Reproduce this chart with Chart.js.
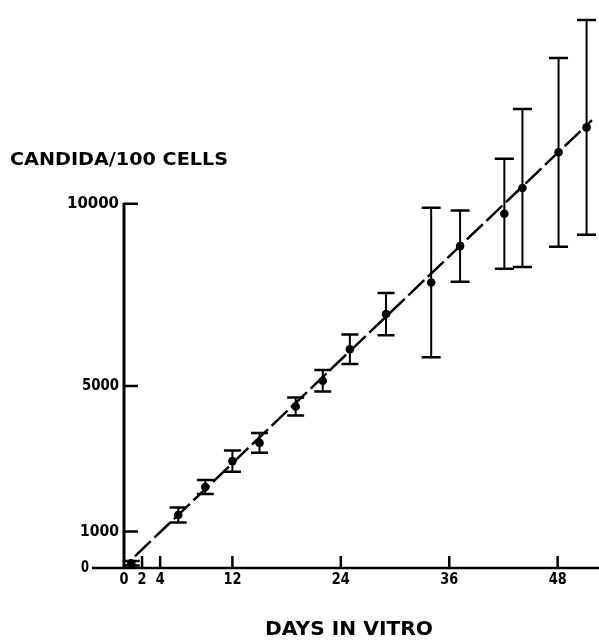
<!DOCTYPE html>
<html>
<head>
<meta charset="utf-8">
<script src="https://cdn.jsdelivr.net/npm/chart.js@4"></script>
<style>
  body { margin: 0; background: #fff; }
  #wrap { width: 599px; height: 640px; position: relative; }
</style>
</head>
<body>
<div id="wrap"><canvas id="Chart" width="599" height="640"></canvas></div>
<script>
// data
const days = [0.8, 6, 9, 12, 15, 19, 22, 25, 29, 34, 37.2, 42.1, 44.1, 48.1, 51.2];
const counts = [130, 1455, 2225, 2935, 3435, 4435, 5140, 6005, 6975, 7840, 8840, 9730, 10435, 11415, 12100];
const errors = [60, 205, 190, 290, 270, 245, 295, 405, 580, 2055, 980, 1510, 2170, 2590, 2950];
const fitDays = [1.2, 51.8];
const fitCounts = [320, 12300];
const xTicks = [0, 2, 4, 12, 24, 36, 48];
const yTicks = [0, 1000, 5000, 10000];

const FONT = '"DejaVu Sans", sans-serif';

// text drawn squeezed/stretched to a target width
function fitText(ctx, txt, x, y, size, width, align) {
  ctx.save();
  ctx.font = 'bold ' + size + 'px ' + FONT;
  const w = ctx.measureText(txt).width;
  const s = width / w;
  ctx.textBaseline = 'middle';
  ctx.textAlign = 'left';
  let left = x;
  if (align === 'right') left = x - width;
  if (align === 'center') left = x - width / 2;
  ctx.translate(left, y);
  ctx.scale(s, 1);
  ctx.fillText(txt, 0, 0);
  ctx.restore();
}

const axesPlugin = {
  id: 'axesPlugin',
  afterDatasetsDraw(chart) {
    const ctx = chart.ctx;
    const xs = chart.scales.x, ys = chart.scales.y;
    const x0 = xs.getPixelForValue(0), y0 = ys.getPixelForValue(0);
    ctx.save();
    ctx.strokeStyle = '#000';
    ctx.fillStyle = '#000';
    ctx.lineCap = 'butt';

    // error bars
    days.forEach((d, i) => {
      const px = xs.getPixelForValue(d);
      const top = ys.getPixelForValue(counts[i] + errors[i]);
      const bot = ys.getPixelForValue(counts[i] - errors[i]);
      const half = errors[i] > 900 ? 9.5 : 8.5;
      ctx.lineWidth = 2;
      ctx.beginPath();
      ctx.moveTo(px, top); ctx.lineTo(px, bot);
      ctx.stroke();
      ctx.lineWidth = 2.5;
      ctx.beginPath();
      ctx.moveTo(px - half, top); ctx.lineTo(px + half, top);
      ctx.moveTo(px - half, bot); ctx.lineTo(px + half, bot);
      ctx.stroke();
    });

    // axes
    ctx.lineWidth = 3;
    ctx.beginPath();
    ctx.moveTo(x0, y0 + 1); ctx.lineTo(x0, ys.getPixelForValue(10000) - 1);
    ctx.stroke();
    ctx.lineWidth = 2.5;
    ctx.beginPath();
    ctx.moveTo(92, y0); ctx.lineTo(chart.width, y0);
    yTicks.slice(1).forEach(v => {
      const py = ys.getPixelForValue(v);
      ctx.moveTo(x0, py); ctx.lineTo(x0 + 14, py);
    });
    xTicks.slice(1).forEach(v => {
      const px = xs.getPixelForValue(v);
      ctx.moveTo(px, y0); ctx.lineTo(px, y0 - 12);
    });
    ctx.stroke();

    // tick labels
    const yw = { 0: 8, 1000: 39, 5000: 37, 10000: 52 };
    yTicks.forEach(v => {
      fitText(ctx, String(v), v === 0 ? 89 : 119, ys.getPixelForValue(v), 15.5, yw[v], 'right');
    });
    xTicks.forEach(v => {
      const w = v < 10 ? 9 : 18;
      fitText(ctx, String(v), xs.getPixelForValue(v), 580, 15.5, w, 'center');
    });

    // titles
    fitText(ctx, 'CANDIDA/100 CELLS', 10, 160, 17.5, 218, 'left');
    fitText(ctx, 'DAYS IN VITRO', 349, 630, 19.5, 168, 'center');
    ctx.restore();
  }
};

const data = {
  datasets: [
    {
      label: 'fit',
      data: fitDays.map((d, i) => ({ x: d, y: fitCounts[i] })),
      showLine: true,
      borderColor: '#000',
      borderWidth: 2.5,
      borderDash: [22, 5],
      pointRadius: 0,
      fill: false
    },
    {
      label: 'candida',
      data: days.map((d, i) => ({ x: d, y: counts[i] })),
      showLine: false,
      pointRadius: 4.3,
      pointBackgroundColor: '#000',
      pointBorderColor: '#000',
      pointBorderWidth: 0
    }
  ]
};

const config = {
  type: 'scatter',
  data,
  options: {
    responsive: false,
    animation: false,
    devicePixelRatio: 1,
    layout: { padding: { left: 124, right: 0, top: 0, bottom: 72 } },
    scales: {
      x: { type: 'linear', min: 0, max: 52.1, display: false },
      y: { type: 'linear', min: 0, max: 15480, display: false }
    },
    plugins: {
      legend: { display: false },
      tooltip: { enabled: false }
    }
  },
  plugins: [axesPlugin]
};

const myChart = new Chart(document.getElementById('Chart'), config);
</script>
</body>
</html>
